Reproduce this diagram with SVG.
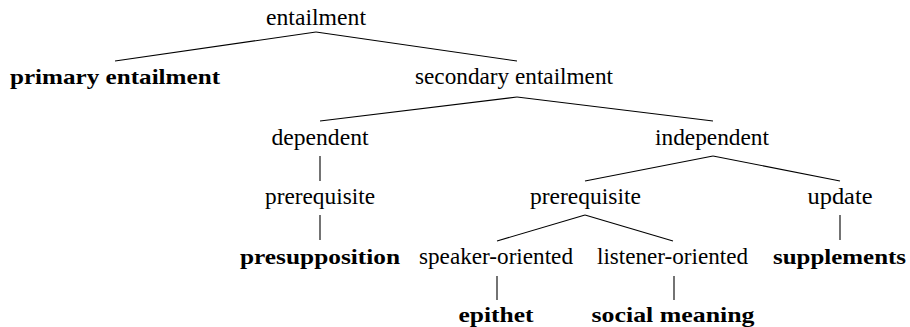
<svg xmlns="http://www.w3.org/2000/svg" width="910" height="327" viewBox="0 0 910 327">
<style>
text{font-family:'Liberation Serif';font-size:22.5px;fill:#000;text-anchor:middle}
.b{font-weight:bold;font-size:22px}
.e line{stroke:#000;stroke-width:1.1}
</style>
<rect width="910" height="327" fill="#fff"/>
<g class="e" id="connectors">
<line x1="316" y1="32" x2="115" y2="61"/>
<line x1="316" y1="32" x2="517" y2="61"/>
<line x1="517" y1="97" x2="320" y2="121"/>
<line x1="517" y1="97" x2="713" y2="121"/>
<line x1="320" y1="156" x2="320" y2="181"/>
<line x1="713" y1="156" x2="585" y2="181"/>
<line x1="713" y1="156" x2="840" y2="181"/>
<line x1="320" y1="215" x2="320" y2="240"/>
<line x1="585" y1="215" x2="497" y2="241"/>
<line x1="585" y1="215" x2="673" y2="241"/>
<line x1="840" y1="215" x2="840" y2="240"/>
<line x1="497" y1="276" x2="497" y2="300"/>
<line x1="674" y1="276" x2="674" y2="300"/>
</g>
<g id="entailment"><text x="316" y="25" textLength="100" lengthAdjust="spacingAndGlyphs">entailment</text></g>
<g id="primary"><text class="b" x="115" y="84" textLength="210" lengthAdjust="spacingAndGlyphs">primary entailment</text></g>
<g id="secondary"><text x="514" y="84" textLength="198" lengthAdjust="spacingAndGlyphs">secondary entailment</text></g>
<g id="dependent"><text x="320" y="145" textLength="97" lengthAdjust="spacingAndGlyphs">dependent</text></g>
<g id="independent"><text x="712" y="145" textLength="114" lengthAdjust="spacingAndGlyphs">independent</text></g>
<g id="prereq-left"><text x="320" y="204" textLength="110" lengthAdjust="spacingAndGlyphs">prerequisite</text></g>
<g id="prereq-right"><text x="585.5" y="204" textLength="111" lengthAdjust="spacingAndGlyphs">prerequisite</text></g>
<g id="update"><text x="840" y="204" textLength="65" lengthAdjust="spacingAndGlyphs">update</text></g>
<g id="presupposition"><text class="b" x="320" y="264" textLength="160" lengthAdjust="spacingAndGlyphs">presupposition</text></g>
<g id="speaker"><text x="496" y="264" textLength="154" lengthAdjust="spacingAndGlyphs">speaker-oriented</text></g>
<g id="listener"><text x="672.5" y="264" textLength="151" lengthAdjust="spacingAndGlyphs">listener-oriented</text></g>
<g id="supplements"><text class="b" x="839.5" y="264" textLength="133" lengthAdjust="spacingAndGlyphs">supplements</text></g>
<g id="epithet"><text class="b" x="496" y="322" textLength="75" lengthAdjust="spacingAndGlyphs">epithet</text></g>
<g id="social"><text class="b" x="673" y="322" textLength="163" lengthAdjust="spacingAndGlyphs">social meaning</text></g>
</svg>
